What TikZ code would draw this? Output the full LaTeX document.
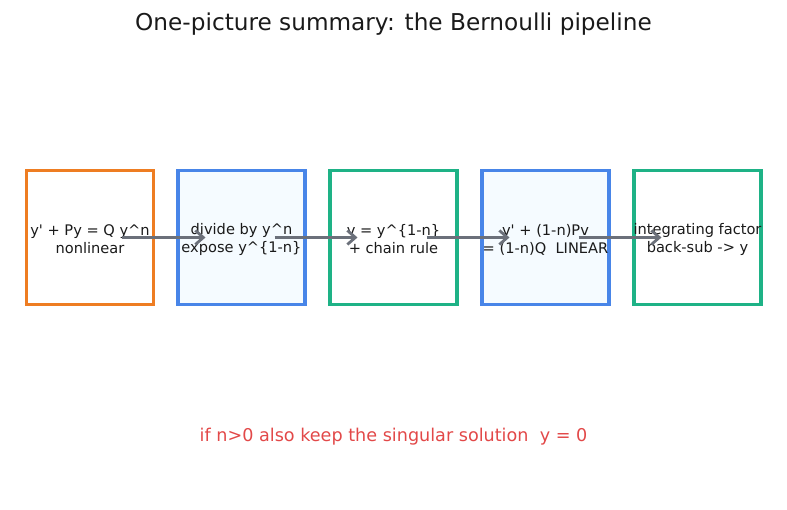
\documentclass[tikz,border=0pt]{standalone}
\usepackage{fontspec}
\usepackage{tikz}
\usepackage{xcolor}
\usetikzlibrary{arrows.meta,positioning}
\setmainfont{DejaVu Sans}
\definecolor{bernorange}{RGB}{238,125,34}
\definecolor{bernblue}{RGB}{72,133,232}
\definecolor{berngreen}{RGB}{30,178,134}
\definecolor{bernred}{RGB}{226,72,72}
\definecolor{berngray}{RGB}{107,112,122}
\definecolor{bernpale}{RGB}{245,251,255}
\definecolor{berntext}{RGB}{26,26,26}

\begin{document}
\begin{tikzpicture}[x=1pt,y=1pt,
  stagebox/.style={draw=#1,line width=3.2pt,inner sep=0pt,
    minimum width=127pt,minimum height=134pt},
  stagetext/.style={align=center,text=berntext,inner sep=0pt,yshift=-2pt,
    font=\fontsize{14.6}{18}\selectfont},
  flow/.style={-{Straight Barb[length=8pt,width=14pt,line width=2.8pt]},
    line width=3pt,berngray}]
  \useasboundingbox (0,0) rectangle (787,510);

  \node[text=berntext,font=\fontsize{23.2}{27}\selectfont] (title) at (393.5,486) {One-picture summary: the Bernoulli pipeline};

  \node[stagebox=bernorange] (bern) at (90,272.5) {};
  \node[stagebox=bernblue,fill=bernpale] (divide) at (241.5,272.5) {};
  \node[stagebox=berngreen] (subst) at (393.5,272.5) {};
  \node[stagebox=bernblue,fill=bernpale] (linear) at (545.5,272.5) {};
  \node[stagebox=berngreen] (solve) at (697.5,272.5) {};

  \node[stagetext] (berntxt) at (bern) {y\textquotesingle{} + Py = Q y\textasciicircum n\\nonlinear};
  \node[stagetext] (dividetxt) at (divide) {divide by y\textasciicircum n\\expose y\textasciicircum\{1-n\}};
  \node[stagetext] (substtxt) at (subst) {v = y\textasciicircum\{1-n\}\\+ chain rule};
  \node[stagetext] (lineartxt) at (linear) {v\textquotesingle{} + (1-n)Pv\\= (1-n)Q\ \ LINEAR};
  \node[stagetext] (solvetxt) at (solve) {integrating factor\\back-sub -> y};

  \draw[flow] ([xshift=32pt]bern.center) -- ([xshift=-36pt]divide.center);
  \draw[flow] ([xshift=33pt]divide.center) -- ([xshift=-36pt]subst.center);
  \draw[flow] ([xshift=33pt]subst.center) -- ([xshift=-36pt]linear.center);
  \draw[flow] ([xshift=33pt]linear.center) -- ([xshift=-36pt]solve.center);

  \node[text=bernred,font=\fontsize{17.6}{21}\selectfont] (singular) at (393.5,73) {if n>0 also keep the singular solution\ \ y = 0};
\end{tikzpicture}
\end{document}
